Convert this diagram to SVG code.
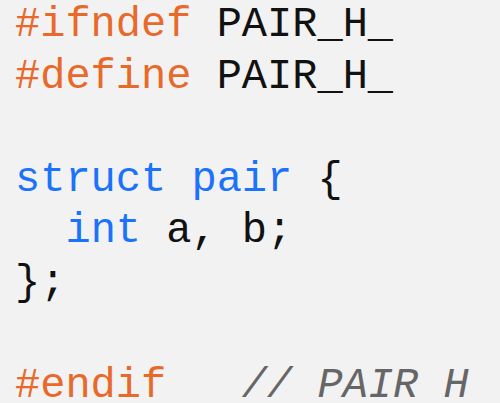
<svg xmlns="http://www.w3.org/2000/svg" width="500" height="403" viewBox="0 0 500 403">
<style>
text{font-family:"Courier New","Nimbus Mono PS","Nimbus Mono L","FreeMono","Liberation Mono",monospace;font-size:42px;fill:#111;white-space:pre}
.pp{fill:#e8692a}
.kw{fill:#1a73fa}
.cm{fill:#666;font-style:italic}
</style>
<rect width="500" height="403" fill="#f2f2f2"/>
<g id="code" xml:space="preserve">
<text x="15" y="36"><tspan class="pp">#ifndef</tspan> PAIR_H_</text>
<text x="15" y="87.5"><tspan class="pp">#define</tspan> PAIR_H_</text>
<text x="15" y="190.5"><tspan class="kw">struct</tspan> <tspan class="kw">pair</tspan> {</text>
<text x="15" y="242">  <tspan class="kw">int</tspan> a, b;</text>
<text x="15" y="293.5">};</text>
<text x="15" y="396.5"><tspan class="pp">#endif</tspan>   <tspan class="cm">// PAIR H</tspan></text>
</g>
</svg>
